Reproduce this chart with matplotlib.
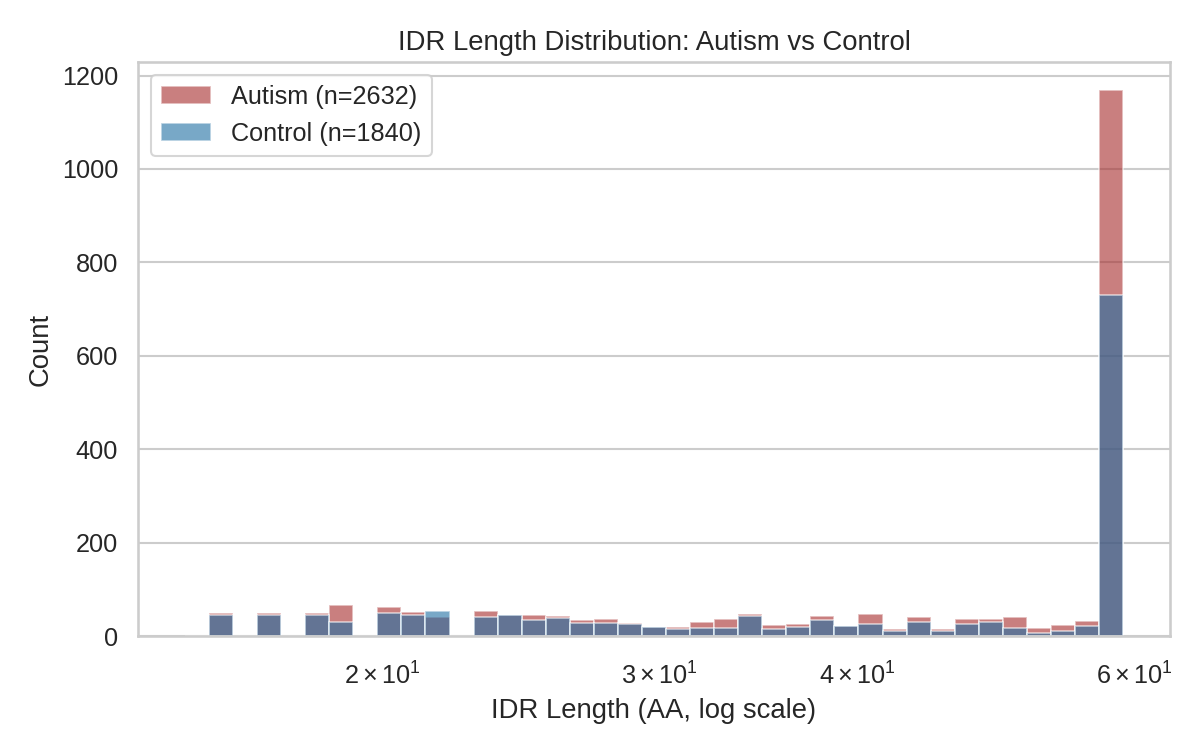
import numpy as np
import matplotlib
matplotlib.use("Agg")
import matplotlib.pyplot as plt
import seaborn as sns

# IDR length range (AA) covered by the histogram, 39 log-spaced bins
length_min = 15
length_max = 59
n_bins = 39

# counts per bin
autism_counts = [0, 50, 0, 50, 0, 50, 66, 0, 62, 52, 40, 0, 54, 46, 45, 43, 34, 36, 27, 19,
                 19, 30, 36, 47, 24, 26, 43, 21, 48, 16, 41, 16, 36, 36, 41, 18, 24, 32, 1170]
control_counts = [0, 44, 0, 46, 0, 46, 31, 0, 50, 46, 54, 0, 40, 46, 35, 38, 28, 28, 26, 19,
                  14, 18, 18, 43, 14, 20, 34, 21, 26, 11, 31, 11, 26, 31, 18, 6, 11, 21, 730]
n_autism = 2632
n_control = 1840

sns.set_theme(style="whitegrid", font_scale=1.1)
plt.rcParams['font.family'] = ['Liberation Sans', 'DejaVu Sans']
# tick labels like 2x10^1 are mathtext, render them in the same sans font
plt.rcParams['mathtext.fontset'] = 'custom'
plt.rcParams['mathtext.rm'] = 'Liberation Sans'
plt.rcParams['mathtext.it'] = 'Liberation Sans:italic'
plt.rcParams['mathtext.bf'] = 'Liberation Sans:bold'

edges = np.logspace(np.log10(length_min), np.log10(length_max), n_bins + 1)
centers = np.sqrt(edges[:-1] * edges[1:])

fig, ax = plt.subplots(figsize=(8, 5), dpi=150)
ax.set_xscale('log')
ax.hist(centers, bins=edges, weights=autism_counts, color='brown', alpha=0.6,
        edgecolor='white', linewidth=0.8, label=f'Autism (n={n_autism})')
ax.hist(centers, bins=edges, weights=control_counts, color='#1f6ea3', alpha=0.6,
        edgecolor='white', linewidth=0.8, label=f'Control (n={n_control})')

ax.set_title('IDR Length Distribution: Autism vs Control')
ax.set_xlabel('IDR Length (AA, log scale)')
ax.set_ylabel('Count')
ax.tick_params(axis='x', which='both', pad=8.5)
ax.legend(loc='upper left')

fig.subplots_adjust(left=0.115, right=0.975, top=0.917, bottom=0.152)
fig.savefig('out.png')
